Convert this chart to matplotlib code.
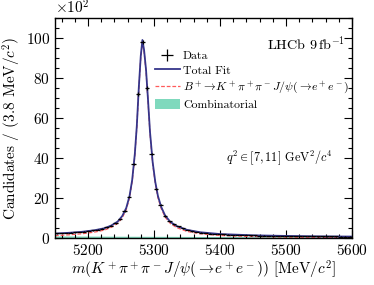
import numpy as np
import matplotlib
matplotlib.use('Agg')
from matplotlib import pyplot as plt
from matplotlib.ticker import MultipleLocator

plt.rcParams['font.family'] = ['cmr10', 'DejaVu Serif']
plt.rcParams['mathtext.fontset'] = 'cm'
plt.rcParams['axes.formatter.use_mathtext'] = True

# binning of the data (66 bins between 5150 and 5600 MeV)
m_lo, m_hi, n_bins = 5150, 5600, 66

# candidates per bin
counts = [230, 241, 249, 268, 281, 298, 322, 349, 381, 412, 458, 531,
          612, 740, 930, 1350, 2070, 3700, 7200, 9800, 7500, 4200, 2450, 1670,
          1100, 840, 690, 580, 480, 402, 341, 298, 268, 243, 221, 203,
          190, 179, 169, 160, 151, 143, 136, 130, 124, 120, 115, 110,
          106, 102, 99, 97, 95, 92, 90, 88, 86, 84, 82, 80,
          78, 77, 75, 73, 72, 70]

# fit model: signal and combinatorial at sampled masses
fit_mass = [5150, 5170, 5190, 5210, 5225, 5235, 5245, 5252, 5258, 5263, 5267,
            5271, 5274, 5277, 5280, 5282.5, 5285, 5288, 5291, 5294, 5298,
            5302, 5306, 5311, 5317, 5325, 5335, 5350, 5370, 5400, 5450,
            5500, 5550, 5600]
fit_signal = [115, 155, 208, 293, 395, 527, 730, 1012, 1413, 2014, 2815,
              4116, 5516, 7416, 9016, 9816, 9316, 8316, 6816, 5217, 3717,
              2717, 2017, 1467, 1037, 718, 508, 330, 212, 126, 70,
              45, 27, 20]
fit_comb = [105, 101, 97, 94, 92, 90, 89, 88, 87, 86, 86,
            86, 85, 85, 85, 84, 84, 84, 84, 83, 83,
            83, 83, 82, 81, 80, 79, 77, 74, 70, 63,
            57, 53, 50]

edges = np.linspace(m_lo, m_hi, n_bins + 1)
centers = 0.5 * (edges[1:] + edges[:-1])
half_w = 0.5 * (edges[1] - edges[0])
counts = np.array(counts, dtype=float)
fit_signal = np.array(fit_signal, dtype=float)
fit_comb = np.array(fit_comb, dtype=float)

fig = plt.figure(figsize=(3.74, 2.85), dpi=100)
ax = fig.add_axes([0.147, 0.165, 0.794, 0.772])

ax.fill_between(fit_mass, 0, fit_comb, color='#7fd9bd', lw=0, label='Combinatorial')
ax.plot(fit_mass, fit_signal, ls='--', color='#ff5a5a', lw=0.9,
        dashes=(3, 1.5), label=r'$B^+\!\to\! K^+\pi^+\pi^- J/\psi(\to\! e^+e^-)$')
ax.plot(fit_mass, fit_signal + fit_comb, color='#35358a', lw=1.3, label='Total Fit')
ax.errorbar(centers, counts, xerr=half_w, yerr=np.sqrt(counts), fmt='none',
            ecolor='black', elinewidth=0.9, label='Data')

ax.set_xlim(m_lo, m_hi)
ax.set_ylim(0, 11000)
ax.ticklabel_format(axis='y', style='sci', scilimits=(2, 2))
ax.xaxis.set_major_locator(MultipleLocator(100))
ax.xaxis.set_minor_locator(MultipleLocator(20))
ax.yaxis.set_major_locator(MultipleLocator(2000))
ax.yaxis.set_minor_locator(MultipleLocator(500))
ax.tick_params(which='both', direction='in', top=True, right=True, labelsize=11)
ax.tick_params(which='major', length=6, width=0.8)
ax.tick_params(which='minor', length=3, width=0.8)
ax.yaxis.get_offset_text().set_fontsize(11)
for s in ax.spines.values():
    s.set_linewidth(1.0)

ax.set_xlabel(r'$m(K^+\pi^+\pi^- J/\psi(\to\! e^+e^-))$ [MeV/$c^2$]', fontsize=11, labelpad=1)
ax.set_ylabel(r'Candidates / (3.8 MeV/$c^2$)', fontsize=11, labelpad=2)

ax.text(0.975, 0.88, r'LHCb 9$\,$fb$^{-1}$', transform=ax.transAxes,
        ha='right', va='center', fontsize=10.2)
ax.text(0.935, 0.365, r'$q^2\in[7,11]$ GeV$^2/c^4$', transform=ax.transAxes,
        ha='right', va='center', fontsize=8.8)

h, l = ax.get_legend_handles_labels()
order = [3, 2, 1, 0]
ax.legend([h[i] for i in order], [l[i] for i in order], loc='upper left',
          bbox_to_anchor=(0.32, 0.875), frameon=False, fontsize=8.5,
          handlelength=2.1, handleheight=0.9, handletextpad=0.3,
          labelspacing=0.3, borderaxespad=0)

fig.savefig('out.png', dpi=100)
